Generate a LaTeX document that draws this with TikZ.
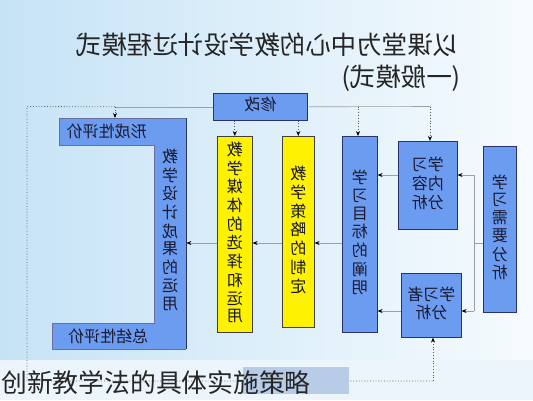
\documentclass[tikz,border=0pt]{standalone}
\usepackage{fontspec}
\usepackage{graphicx}
\setmainfont{Noto Sans CJK SC}
\usetikzlibrary{arrows.meta}
\definecolor{boxblue}{RGB}{108,156,240}
\definecolor{boxedge}{RGB}{40,50,110}
\definecolor{bgL}{RGB}{198,227,246}
\definecolor{bgR}{RGB}{246,251,254}
\definecolor{bgB}{RGB}{236,245,251}
\definecolor{hl}{RGB}{184,204,232}
\definecolor{txtc}{RGB}{25,25,50}
\newcommand\mtxt[1]{\reflectbox{\begin{tabular}{@{}c@{}}#1\end{tabular}}}
\tikzset{
  bbox/.style={draw=boxedge, fill=boxblue, line width=0.6pt, inner sep=0pt, anchor=north west, text=txtc, font=\fontsize{16}{17.6}\selectfont},
  ybox/.style={bbox, fill=yellow, draw=black!75},
  tbox/.style={inner sep=0pt, anchor=north west, text=txtc, font=\fontsize{16}{17.6}\selectfont},
  gline/.style={draw=gray!75, line width=0.6pt},
  garr/.style={gline, -{Stealth[length=5pt,width=4pt,color=black]}},
  dline/.style={draw=black!65, dotted, line width=0.8pt},
  darr/.style={dline, -{Stealth[length=5pt,width=4pt,color=black]}},
}
\begin{document}
\begin{tikzpicture}[x=1pt,y=-1pt]
\useasboundingbox (0,0) rectangle (533,400);
\shade[left color=bgL, right color=bgR] (0,0) rectangle (533,360);
\fill[bgB] (0,360) rectangle (533,400);
% title
\node[anchor=east, inner sep=0pt, text=black!85, font=\fontsize{25.5}{27}\selectfont] (t1) at (459,45) {\reflectbox{以课堂为中心的教学设计过程模式}};
\node[anchor=east, inner sep=0pt, text=black!85, font=\fontsize{25.5}{27}\selectfont] (t2) at (461,78) {\reflectbox{(一般模式)}};
% revise box
\node[bbox, minimum width=94, minimum height=27] (fix) at (213,93) {\mtxt{修改}};
% L-shaped evaluation block
\fill[boxblue] (59,118) -- (186,118) -- (186,349) -- (52,349) -- (52,323) -- (154,323) -- (154,145) -- (59,145) -- cycle;
\draw[boxedge!70, line width=0.5pt] (59,118) -- (186,118) (52,349) -- (52,323) -- (154,323) -- (154,145) -- (59,145) -- (59,118) (186,349) -- (52,349);
\draw[boxedge, line width=1pt] (186,118) -- (186,349);
\node[tbox, minimum width=95, minimum height=27] (form) at (59,118) {\reflectbox{形成性评价}};
\node[tbox, minimum width=92, minimum height=26] (summ) at (62,323) {\reflectbox{总结性评价}};
\node[tbox, minimum width=32, minimum height=227] (design) at (154,118) {\mtxt{教\\学\\设\\计\\成\\果\\的\\运\\用}};
% columns
\node[ybox, minimum width=35, minimum height=196] (media) at (217,136) {\mtxt{教\\学\\媒\\体\\的\\选\\择\\和\\运\\用}};
\node[ybox, minimum width=32, minimum height=191] (strategy) at (282,136) {\mtxt{教\\学\\策\\略\\的\\制\\定}};
\node[bbox, minimum width=35, minimum height=196] (goal) at (342,136) {\mtxt{学\\习\\目\\标\\的\\阐\\明}};
\node[bbox, minimum width=59, minimum height=88] (content) at (398,141) {\mtxt{学习\\内容\\分析}};
\node[bbox, minimum width=60, minimum height=64] (learner) at (401,273) {\mtxt{学习者\\分析}};
\node[bbox, minimum width=33, minimum height=166] (need) at (483,146) {\mtxt{学\\习\\需\\要\\分\\析}};
% solid connectors
\coordinate (jm) at (474,243);
\coordinate (jt) at (474,175);
\coordinate (jb) at (474,311);
\draw[gline] (need.west |- jm) -- (jm);
\draw[gline] (jt) -- (jb);
\draw[garr] (jt) -- (jt -| content.east);
\draw[garr] (jb) -- (jb -| learner.east);
\draw[garr] (content.west |- jt) -- (goal.east |- jt);
\draw[garr] (learner.west |- jb) -- (goal.east |- jb);
\draw[garr] (goal.west |- jm) -- (strategy.east |- jm);
\draw[garr] (strategy.west |- jm) -- (media.east |- jm);
\draw[garr] (media.west |- jm) -- (design.east |- jm);
% dotted feedback lines
\coordinate (ltop) at (115,118);
\coordinate (c1) at (27,106.5);
\coordinate (c2) at (27,381);
\coordinate (c3) at (433,381);
\coordinate (r1) at (358,106.5);
\coordinate (r2) at (430,106.5);
\draw[gline] (fix.west) -- (ltop |- fix.west);
\draw[dline] (ltop |- fix.west) -- (c1) -- (c2) -- (c3);
\draw[darr] (c3) -- (c3 |- learner.south);
\draw[darr] (ltop |- fix.west) -- (ltop);
\draw[gline] (fix.east) -- (r2);
\draw[darr] (r1) -- (r1 |- goal.north);
\draw[darr] (r2) -- (r2 |- content.north);
\draw[darr] (media.north |- fix.south) -- (media.north);
\draw[darr] (strategy.north |- fix.south) -- (strategy.north);
% caption
\fill[hl] (243,367) rectangle (349,394);
\node[anchor=west, inner sep=0pt, text=black!85, font=\fontsize{25.8}{27}\selectfont] (cap) at (1,383) {创新教学法的具体实施策略};
\end{tikzpicture}
\end{document}
